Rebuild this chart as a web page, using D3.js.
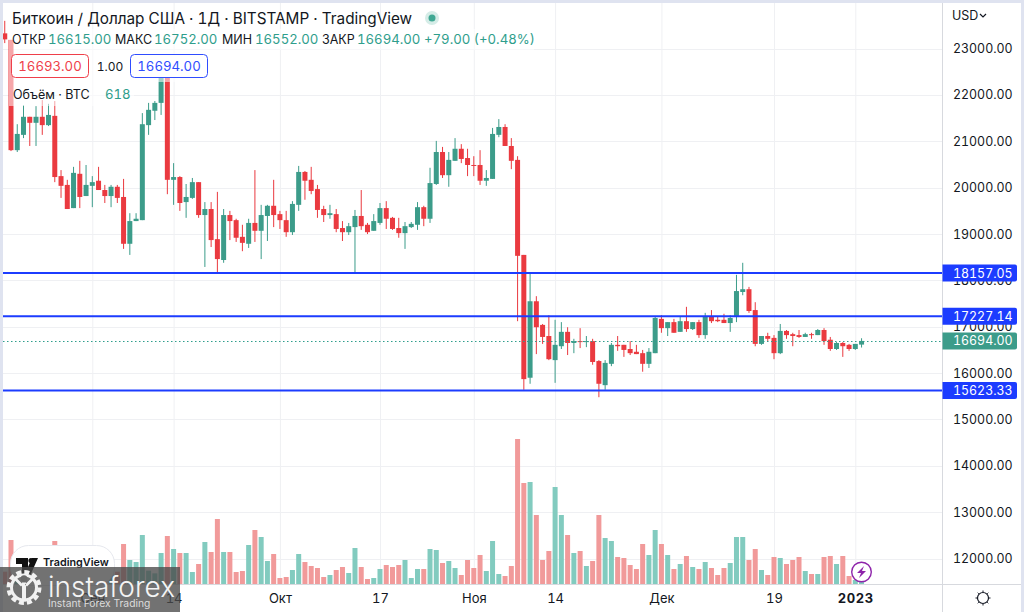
<!DOCTYPE html>
<html>
<head>
<meta charset="utf-8">
<script src="https://cdn.jsdelivr.net/npm/d3@7"></script>
<style>
  html, body { margin: 0; padding: 0; background: #dfe3f0; overflow: hidden; }
  text { font-family: Inter, "Noto Sans", sans-serif; font-feature-settings: "tnum"; }
</style>
</head>
<body>
<div id="chart"></div>
<script>
// **************************DATA***********************************************
// First candle date, one candle per day
var firstDay = new Date(Date.UTC(2022, 7, 18));

var opens = [23330,23190,20810,21140,21530,21400,21530,21350,21550,20250,20060,19560,20300,19820,
  20040,20150,19950,19820,20020,19800,18790,19280,19300,21350,
  21660,21830,22410,20170,20230,19690,19780,20120,19410,19540,
  18890,18440,19410,19300,18940,18790,19240,19070,19390,19610,
  19430,19300,19040,19630,20340,20170,19970,19540,19410,19430,
  19130,19040,19150,19390,19200,19070,19240,19560,19350,19130,
  19020,19150,19200,19580,19330,20080,20770,20270,20580,20840,
  20640,20490,20490,20150,20190,21140,21310,20900,20600,18550,
  15900,17550,17040,16800,16280,16580,16890,16650,16690,16670,
  16690,16260,15740,16200,16610,16610,16520,16460,16430,16200,
  16430,17170,16970,17100,16890,17120,16950,17100,16820,17230,
  17150,17150,17080,17210,17750,17810,17360,16630,16800,16760,
  16430,16910,16840,16820,16780,16840,16820,16930,16720,16520,
  16650,16610,16520,16615];

var highs = [23600,23190,21370,21780,21530,21760,21890,21810,21870,20380,20170,20450,20580,20490,
  20250,20450,20060,20060,20060,20190,19450,19450,21610,21830,
  21870,22540,22500,20530,20250,20080,20210,20120,19690,19690,
  19910,19540,19500,19330,19200,19330,20380,19630,19630,20170,
  19500,19500,19710,20470,20360,20450,20060,19610,19630,19540,
  19280,19240,19520,19950,19240,19430,19670,19710,19370,19350,
  19260,19260,19690,19610,20430,21010,20880,20770,21070,20940,
  20840,20680,20810,20380,21290,21480,21370,21070,20680,18550,
  18160,17660,17060,17250,17150,17100,16990,16740,16970,16800,
  16740,16280,16280,16650,16800,16610,16690,16610,16500,16540,
  17230,17250,17100,17170,17210,17430,17100,17150,17300,17360,
  17230,17280,17250,18120,18380,17860,17530,16800,16870,16820,
  17060,16930,16870,16930,16870,16870,16950,16970,16780,16670,
  16670,16630,16630,16752];

var lows = [23120,20790,20770,21070,20900,20900,21140,21330,20120,19780,19540,19560,19560,19820,
  19580,19950,19670,19580,19670,18680,18550,19280,19300,21140,
  21460,21570,19860,19630,19500,19350,19760,19350,18290,18720,
  18160,18380,18870,18830,18630,18700,18830,18460,18850,19150,
  19110,18940,18980,19500,19740,19860,19350,19260,19330,19040,
  18850,18980,18180,19090,19000,19070,19200,19110,19090,18920,
  18680,19130,19090,19170,19240,20060,20210,20020,20580,20530,
  20250,20250,20060,20040,20190,21090,20900,20400,17120,15640,
  15770,16410,16630,16280,15790,16520,16390,16430,16540,16560,
  16180,15480,15640,16150,16480,16350,16390,16410,16030,16110,
  16430,16870,16800,16870,16890,16890,16930,16760,16740,17080,
  17100,17080,16890,17100,17680,17300,16580,16610,16690,16300,
  16410,16740,16580,16760,16780,16740,16820,16610,16480,16500,
  16350,16480,16500,16552];

var closes = [23200,20810,21160,21530,21400,21530,21350,21570,20230,20040,19540,20320,19800,20060,
  20120,19950,19820,20020,19780,18790,19280,19330,21370,21680,
  21830,22410,20170,20230,19670,19800,20120,19410,19540,18870,
  18460,19410,19280,18920,18810,19240,19070,19410,19610,19410,
  19300,19040,19650,20340,20150,19930,19520,19410,19450,19110,
  19040,19170,19390,19170,19040,19280,19560,19330,19110,19020,
  19170,19220,19580,19330,20100,20770,20270,20600,20840,20620,
  20490,20470,20150,20210,21160,21310,20900,20580,18530,15870,
  17550,16990,16780,16300,16610,16890,16650,16690,16670,16690,
  16240,15770,16220,16610,16580,16500,16430,16410,16200,16460,
  17190,16970,17100,16870,17120,16950,17100,16820,17230,17120,
  17120,17080,17190,17770,17810,17340,16630,16800,16740,16430,
  16910,16820,16800,16780,16840,16820,16930,16690,16520,16650,
  16580,16520,16630,16694];

var volumes = [1480,5280,2400,2800,2000,2200,2400,2000,5160,2800,3200,2400,2200,1800,
  1600,1800,1600,1400,1480,4800,2880,2640,5880,1600,
  1280,3720,5760,4200,3720,3720,1440,2400,5040,3840,
  7800,3840,3840,1440,1560,4680,6480,5640,2760,3600,
  720,840,1680,3600,2640,2160,1920,840,1080,1680,
  2040,1320,4320,2040,600,720,1800,2280,2040,2280,
  2880,720,1800,1800,4200,4080,2520,2760,1920,1080,
  2880,1920,3480,1560,5160,1200,960,2160,17400,12120,
  12240,8280,2880,3960,11640,8280,5880,3720,3960,2160,
  2760,8280,5520,5160,3240,3120,2280,1800,4800,3480,
  6480,4800,3480,1800,2400,3360,2040,1800,2640,1920,
  1080,1920,2520,5640,5640,2880,4200,1680,1080,3240,
  3120,2400,2880,3240,1560,1200,1200,3240,3360,2400,
  3360,960,480,618];

// Price axis ticks and drawn horizontal levels
var priceTicks = [23000,22000,21000,20000,19000,18000,17000,16000,15000,14000,13000,12000];
var levels = [18157.05, 17227.14, 15623.33];
var lastPrice = 16694;

// Time axis ticks and labels
var timeTicks = [[2022,8,1],[2022,8,14],[2022,9,1],[2022,9,17],[2022,10,1],[2022,10,14],[2022,11,1],[2022,11,19],[2023,0,1]]
  .map(d => new Date(Date.UTC(d[0], d[1], d[2])));
var timeLabels = ["Сен","14","Окт","17","Ноя","14","Дек","19","2023"];

// Legend rows
var ohlcLabels = ["ОТКР","МАКС","МИН","ЗАКР"];
var ohlcValues = ["16615.00","16752.00","16552.00","16694.00"];

// **************************CANVAS SET UP**************************************
var svgWidth = 1024,
    svgHeight = 612;

var paneLeft = 3,
    paneTop = 3,
    paneRight = 942.5,
    paneBottom = 584.5;

var red = "#ea3a40",
    green = "#3c9c8a",
    redSoft = "#f19a9a",
    greenSoft = "#82cbbf",
    blue = "#1c3cff",
    textColor = "#131722",
    gridColor = "#eff0f3",
    borderColor = "#d7d9de";

var svg = d3.select("#chart")
  .append("svg")
    .attr("width", svgWidth)
    .attr("height", svgHeight)
    .style("display", "block");

// Lavender page edge, white panel
svg.append("rect")
  .attr("x", paneLeft)
  .attr("y", paneTop)
  .attr("width", 1021 - paneLeft)
  .attr("height", svgHeight - paneTop)
  .attr("fill", "#fff");

svg.append("clipPath").attr("id", "pane")
  .append("rect")
    .attr("x", paneLeft)
    .attr("y", paneTop)
    .attr("width", paneRight - paneLeft)
    .attr("height", paneBottom - paneTop);

// *******************************SCALES****************************************
var candles = opens.map(function(o, i){
  return {
    date: d3.utcDay.offset(firstDay, i),
    open: o,
    high: highs[i],
    low: lows[i],
    close: closes[i],
    volume: volumes[i],
    up: closes[i] >= o
  };
});

var xScale = d3.scaleUtc()
  .domain([timeTicks[0], timeTicks[8]])
  .range([92.3, 855.3]);

var yScale = d3.scaleLinear()
  .domain([22000, 12000])
  .range([95, 558.5]);

var volumeScale = d3.scaleLinear()
  .domain([0, 17400])
  .range([584, 439]);

// *********************************AXES****************************************
// Grid lines are the axis ticks
var xAxis = d3.axisBottom(xScale)
  .tickValues(timeTicks)
  .tickSize(-(paneBottom - paneTop))
  .tickPadding(0)
  .tickFormat((d, i) => timeLabels[i]);

var yAxis = d3.axisRight(yScale)
  .tickValues(priceTicks)
  .tickSize(0)
  .tickPadding(0)
  .tickFormat(d3.format(".2f"));

var gridX = svg.append("g")
  .attr("transform", `translate(0, ${paneBottom})`)
  .call(xAxis);

gridX.select(".domain").remove();
gridX.selectAll("line").attr("stroke", gridColor);
gridX.selectAll("text")
  .attr("y", 18)
  .attr("dy", "0")
  .attr("fill", textColor)
  .style("font-size", "13px")
  .style("font-weight", (d, i) => i == 8 ? "700" : "400")
  .style("letter-spacing", (d, i) => i == 8 ? "0.6px" : null);

// Horizontal grid
svg.append("g").selectAll("line")
  .data(priceTicks)
  .enter()
  .append("line")
    .attr("x1", paneLeft)
    .attr("x2", paneRight)
    .attr("y1", d => Math.round(yScale(d)) + 0.5)
    .attr("y2", d => Math.round(yScale(d)) + 0.5)
    .attr("stroke", gridColor);

// *********************************VOLUME**************************************
var plot = svg.append("g").attr("clip-path", "url(#pane)");

plot.selectAll(".vol")
  .data(candles)
  .enter()
  .append("rect")
    .attr("class", "vol")
    .attr("x", d => xScale(d.date) - 2.5)
    .attr("width", 5)
    .attr("y", d => volumeScale(d.volume))
    .attr("height", d => volumeScale(0) - volumeScale(d.volume))
    .attr("fill", d => d.up ? greenSoft : redSoft);

// ********************************CANDLES**************************************
plot.selectAll(".wick")
  .data(candles)
  .enter()
  .append("rect")
    .attr("class", "wick")
    .attr("x", d => xScale(d.date) - 0.5)
    .attr("width", 1)
    .attr("y", d => yScale(d.high))
    .attr("height", d => yScale(d.low) - yScale(d.high))
    .attr("fill", d => d.up ? green : red);

plot.selectAll(".body")
  .data(candles)
  .enter()
  .append("rect")
    .attr("class", "body")
    .attr("x", d => xScale(d.date) - 2.5)
    .attr("width", 5)
    .attr("y", d => yScale(Math.max(d.open, d.close)))
    .attr("height", d => Math.max(1, Math.abs(yScale(d.open) - yScale(d.close))))
    .attr("fill", d => d.up ? green : red);

// Last price dotted line
svg.append("line")
  .attr("x1", paneLeft)
  .attr("x2", paneRight)
  .attr("y1", Math.round(yScale(lastPrice)) + 0.5)
  .attr("y2", Math.round(yScale(lastPrice)) + 0.5)
  .attr("stroke", "#2f9e8c")
  .attr("stroke-width", 1.2)
  .attr("stroke-dasharray", "1.5 2.5");

// Drawn level lines
svg.append("g").selectAll("line")
  .data(levels)
  .enter()
  .append("line")
    .attr("x1", paneLeft)
    .attr("x2", paneRight)
    .attr("y1", d => yScale(d))
    .attr("y2", d => yScale(d))
    .attr("stroke", blue)
    .attr("stroke-width", 2);

// *********************************PRICE SCALE*********************************
svg.append("line")
  .attr("x1", paneRight).attr("x2", paneRight)
  .attr("y1", paneTop).attr("y2", svgHeight)
  .attr("stroke", borderColor);
svg.append("line")
  .attr("x1", paneLeft).attr("x2", 1021)
  .attr("y1", paneBottom).attr("y2", paneBottom)
  .attr("stroke", borderColor);

var gridY = svg.append("g")
  .attr("transform", "translate(953, 0)")
  .call(yAxis);

gridY.select(".domain").remove();
gridY.selectAll("text")
  .attr("fill", textColor)
  .style("font-size", "12.4px");

// Price tags
function priceTag(price, color){
  var tagY = yScale(price);
  svg.append("path")
    .attr("d", `M942.5,${tagY - 8.5}H1015a2,2 0 0 1 2,2V${tagY + 6.5}a2,2 0 0 1 -2,2H942.5Z`)
    .attr("fill", color);
  svg.append("text")
    .attr("x", 953)
    .attr("y", tagY + 4.5)
    .attr("fill", "#fff")
    .style("font-size", "12.4px")
    .text(d3.format(".2f")(price));
}
levels.forEach(d => priceTag(d, blue));
priceTag(lastPrice, green);

// USD switch
svg.append("text")
  .attr("x", 952)
  .attr("y", 20)
  .attr("fill", textColor)
  .style("font-size", "12.5px")
  .text("USD");
svg.append("path")
  .attr("d", "M980,14l3,3l3,-3")
  .attr("fill", "none")
  .attr("stroke", textColor)
  .attr("stroke-width", 1.2);

// Settings sun
var sun = svg.append("g").attr("transform", "translate(983, 598)");
sun.append("circle")
  .attr("r", 5.5)
  .attr("fill", "none")
  .attr("stroke", textColor)
  .attr("stroke-width", 1.2);
sun.selectAll("line")
  .data(d3.range(8))
  .enter()
  .append("line")
    .attr("x1", d => 6 * Math.cos(d * Math.PI / 4))
    .attr("y1", d => 6 * Math.sin(d * Math.PI / 4))
    .attr("x2", d => 7.5 * Math.cos(d * Math.PI / 4))
    .attr("y2", d => 7.5 * Math.sin(d * Math.PI / 4))
    .attr("stroke", textColor);

// ************************************LEGEND***********************************
// Rows fade whatever candles run behind them
svg.append("rect").attr("x", 9).attr("y", 29).attr("width", 525).attr("height", 21)
  .attr("fill", "#fff").attr("fill-opacity", 0.55);
svg.append("rect").attr("x", 9).attr("y", 50).attr("width", 200).attr("height", 32)
  .attr("fill", "#fff").attr("fill-opacity", 0.55);
svg.append("rect").attr("x", 9).attr("y", 82).attr("width", 125).attr("height", 24)
  .attr("fill", "#fff").attr("fill-opacity", 0.55);

svg.append("text")
  .attr("x", 12)
  .attr("y", 24)
  .attr("fill", textColor)
  .style("font-size", "15.3px")
  .text("Биткоин / Доллар США · 1Д · BITSTAMP · TradingView");

// Market open dot
svg.append("circle").attr("cx", 432).attr("cy", 18).attr("r", 7).attr("fill", "#d5ece7");
svg.append("circle").attr("cx", 432).attr("cy", 18).attr("r", 3.5).attr("fill", "#3fa893");

var ohlcLabelX = [12, 115, 222, 322],
    ohlcValueX = [48, 154, 255, 357];

ohlcLabels.forEach(function(d, i){
  svg.append("text")
    .attr("x", ohlcLabelX[i])
    .attr("y", 44)
    .attr("fill", textColor)
    .style("font-size", "12.5px")
    .text(d);
  svg.append("text")
    .attr("x", ohlcValueX[i])
    .attr("y", 44)
    .attr("fill", "#2f9e8c")
    .style("font-size", "13.2px")
    .text(ohlcValues[i]);
});

svg.append("text")
  .attr("x", 424)
  .attr("y", 44)
  .attr("fill", "#2f9e8c")
  .style("font-size", "13.2px")
  .text("+79.00 (+0.48%)");

// Bid / ask boxes
function quoteBox(x, value, color){
  svg.append("rect")
    .attr("x", x)
    .attr("y", 54.5)
    .attr("width", 77)
    .attr("height", 23)
    .attr("rx", 4)
    .attr("fill", "#fff")
    .attr("stroke", color);
  svg.append("text")
    .attr("x", x + 38.5)
    .attr("y", 71)
    .attr("text-anchor", "middle")
    .attr("fill", color)
    .style("font-size", "13.2px")
    .text(value);
}
quoteBox(11.5, "16693.00", "#ef3f4a");
quoteBox(130.5, "16694.00", "#2f4dff");

svg.append("text")
  .attr("x", 110)
  .attr("y", 71)
  .attr("text-anchor", "middle")
  .attr("fill", textColor)
  .style("font-size", "12px")
  .text("1.00");

svg.append("text")
  .attr("x", 13)
  .attr("y", 99)
  .attr("fill", textColor)
  .style("font-size", "12.5px")
  .text("Объём · BTC");

svg.append("text")
  .attr("x", 105)
  .attr("y", 99)
  .attr("fill", "#2f9e8c")
  .style("font-size", "13.2px")
  .text("618");

// ************************************BADGES***********************************
// TradingView pill
svg.append("rect")
  .attr("x", 10.5)
  .attr("y", 545.5)
  .attr("width", 104)
  .attr("height", 40)
  .attr("rx", 18)
  .attr("fill", "#fff")
  .attr("stroke", "#e6e8ee");
svg.append("path")
  .attr("d", "M16,558H28V576H22V564H16Z M38,558L30,576H24L32,558Z")
  .attr("fill", "#111");
svg.append("circle").attr("cx", 31).attr("cy", 560.5).attr("r", 2.6).attr("fill", "#111");
svg.append("text")
  .attr("x", 43)
  .attr("y", 566)
  .attr("fill", "#131722")
  .style("font-size", "10.8px")
  .style("font-weight", "600")
  .text("TradingView");

// Lightning mark
svg.append("circle")
  .attr("cx", 861.5)
  .attr("cy", 572)
  .attr("r", 9.8)
  .attr("fill", "#fff")
  .attr("stroke", "#8e24aa")
  .attr("stroke-width", 1.4);
svg.append("path")
  .attr("d", "M864,566L857,573H861L859,578L866,571H862Z")
  .attr("fill", "#8e24aa");

// Instaforex watermark
svg.append("rect")
  .attr("x", 0)
  .attr("y", 567)
  .attr("width", 180)
  .attr("height", 45)
  .attr("fill", "#4a4a4a")
  .attr("fill-opacity", 0.78);

var gear = svg.append("g").attr("transform", "translate(24, 587.5)");
gear.append("circle")
  .attr("r", 15.5)
  .attr("fill", "none")
  .attr("stroke", "#f2f2f2")
  .attr("stroke-width", 4)
  .attr("stroke-dasharray", "5 3.1");
gear.append("circle")
  .attr("r", 12.5)
  .attr("fill", "none")
  .attr("stroke", "#f2f2f2")
  .attr("stroke-width", 3);
gear.append("path")
  .attr("d", "M-2,-5H2V14H-2Z M-10,-8L-8,-10L-1,-3L-3,-1Z M10,-8L8,-10L1,-3L3,-1Z")
  .attr("fill", "#f2f2f2");
gear.append("circle").attr("cy", -9).attr("r", 3.2).attr("fill", "#6a6a6a");

svg.append("text")
  .attr("x", 48)
  .attr("y", 596.5)
  .attr("fill", "#f4f4f4")
  .style("font-size", "28px")
  .style("font-weight", "300")
  .style("font-feature-settings", "normal")
  .text("instaforex");

svg.append("text")
  .attr("x", 48)
  .attr("y", 607)
  .attr("fill", "#dcdcdc")
  .style("font-size", "10.3px")
  .text("Instant Forex Trading");
</script>
</body>
</html>
